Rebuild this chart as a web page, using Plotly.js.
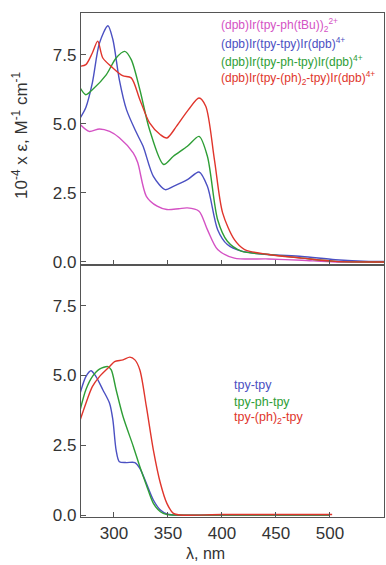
<!DOCTYPE html>
<html><head><meta charset="utf-8">
<script src="https://cdn.plot.ly/plotly-3.0.1.min.js"></script>
<style>html,body{margin:0;padding:0;background:#fff}#chart{width:386px;height:565px}</style>
</head><body><div id="chart"></div>
<script>
// Top panel: Ir complexes
const tBuX = [268.75,277,286.6,296,305,317.8,322,330,340,349,360,368,378.75,386.5,396,411.5,443,474,505,550];
const tBuY = [4.98,4.73,4.82,4.73,4.5,3.95,3.6,2.38,2.02,1.9,1.93,1.96,1.84,1.17,0.45,0.14,0.11,0.06,0.0,0.0];
const tpyX = [268.75,274,280,286.6,294.4,299,305,311.6,321,327,336.5,347.5,355,368,378.75,386.5,396,405,418,443,474,505,536,550];
const tpyY = [5.22,5.6,6.49,7.93,8.56,8.06,6.6,5.52,4.67,4.19,3.1,2.62,2.74,2.98,3.26,2.74,1.17,0.63,0.39,0.27,0.2,0.08,0.02,0.02];
const phX = [268.75,274,280,293,302,310,316,324,333,346,355,368,378.75,386.5,396,405,418,443,474,505,550];
const phY = [6.3,6.06,6.24,6.79,7.39,7.63,7.33,6.24,4.79,3.53,3.83,4.19,4.55,3.83,1.53,0.75,0.39,0.27,0.14,0.02,0.0];
const ph2X = [268.75,274,280,285,289.7,299,308,316,324,333,343,349,358,369,378.75,385,393,400.6,411.5,421,443,474,505,550];
const ph2Y = [7.09,7.15,7.57,8.0,7.39,7.03,6.75,6.67,5.88,5.04,4.61,4.49,4.92,5.52,5.94,5.64,3.71,1.78,0.81,0.45,0.27,0.14,0.02,0.0];
// Bottom panel: free ligands
const lTpyX = [268.75,274,278.75,283.4,289.7,296,299,302,305,311.6,319.4,324,330,336.5,343,349,355,400,450,500];
const lTpyY = [4.37,4.96,5.17,4.96,4.49,4.0,3.41,2.33,1.91,1.88,1.88,1.67,1.14,0.54,0.18,0.04,0.0,0.0,0.0,0.0];
const lPhX = [268.75,274,280,286.6,294.4,297.5,302,308.4,318,324,330,336.5,343,349,355,400,450,500];
const lPhY = [3.77,4.49,4.96,5.23,5.32,5.2,4.49,3.53,2.45,1.73,1.08,0.42,0.12,0.02,0.0,0.0,0.0,0.0];
const lPh2X = [268.75,274,280,286.6,296,300.6,308.4,314.7,319.4,324,330,336.5,343,349,355,361.5,400,450,502];
const lPh2Y = [3.41,4.0,4.6,4.96,5.32,5.5,5.56,5.66,5.56,5.2,3.89,2.33,1.14,0.42,0.06,0.0,0.02,0.02,0.02];

const topLabels = ["(dpb)Ir(tpy-ph(tBu))<sub>2</sub><sup>2+</sup>","(dpb)Ir(tpy-tpy)Ir(dpb)<sup>4+</sup>","(dpb)Ir(tpy-ph-tpy)Ir(dpb)<sup>4+</sup>","(dpb)Ir(tpy-(ph)<sub>2</sub>-tpy)Ir(dpb)<sup>4+</sup>"];
const botLabels = ["tpy-tpy","tpy-ph-tpy","tpy-(ph)<sub>2</sub>-tpy"];
const yTicks = [0,2.5,5,7.5];
const yTickText = ["0.0","2.5","5.0","7.5"];
const xTicks = [300,350,400,450,500];

const cPink='#d452c4', cBlue='#4b50c2', cGreen='#2e9e36', cRed='#e0352c';
function tr(x,y,c,xa,ya){return {x:x,y:y,mode:'lines',line:{color:c,width:1.4,shape:'spline',smoothing:0.8},xaxis:xa,yaxis:ya,hoverinfo:'skip',showlegend:false};}
const data=[
 tr(tBuX,tBuY,cPink,'x','y'),tr(tpyX,tpyY,cBlue,'x','y'),tr(phX,phY,cGreen,'x','y'),tr(ph2X,ph2Y,cRed,'x','y'),
 tr(lTpyX,lTpyY,cBlue,'x2','y2'),tr(lPhX,lPhY,cGreen,'x2','y2'),tr(lPh2X,lPh2Y,cRed,'x2','y2')
];
const font={family:'Liberation Sans, Arial, sans-serif',size:17,color:'#333'};
const axBase={showline:true,mirror:true,linecolor:'#555',linewidth:1.2,ticks:'inside',ticklen:5,tickcolor:'#555',showgrid:false,zeroline:false,tickfont:{size:17,color:'#333'}};
const cols=[cPink,cBlue,cGreen,cRed];
const ann=[];
const topY=[25,43,61,78];
topLabels.forEach((t,i)=>ann.push({text:t,xref:'paper',yref:'paper',x:(219-81)/303,y:(517-topY[i])/504,xanchor:'left',yanchor:'middle',showarrow:false,font:{size:12,color:cols[i]}}));
const botY=[385,402,418];
botLabels.forEach((t,i)=>ann.push({text:t,xref:'paper',yref:'paper',x:(232-81)/303,y:(517-botY[i])/504,xanchor:'left',yanchor:'middle',showarrow:false,font:{size:12.5,color:cols[i+1]}}));
ann.push({text:'λ, nm',xref:'paper',yref:'paper',x:(205-81)/303,y:(517-553)/504,xanchor:'center',yanchor:'middle',showarrow:false,font:{size:16,color:'#333'}});
ann.push({text:'10<sup>-4</sup> x ε, M<sup>-1</sup> cm<sup>-1</sup>',xref:'paper',yref:'paper',x:(20-81)/303,y:(517-135)/504,xanchor:'center',yanchor:'middle',textangle:-90,showarrow:false,font:{size:17,color:'#333'}});
const layout={
 width:386,height:565,margin:{l:81,r:2,t:13,b:48},paper_bgcolor:'#fff',plot_bgcolor:'#fff',font:font,
 xaxis:Object.assign({},axBase,{range:[269.5,550],tickvals:xTicks,showticklabels:false,anchor:'y'}),
 yaxis:Object.assign({},axBase,{range:[-0.11,9.02],domain:[0.5,1],tickvals:yTicks,ticktext:yTickText,anchor:'x'}),
 xaxis2:Object.assign({},axBase,{range:[269.5,550],tickvals:xTicks,anchor:'y2'}),
 yaxis2:Object.assign({},axBase,{range:[-0.07,8.96],domain:[0,0.5],tickvals:yTicks,ticktext:yTickText,anchor:'x2'}),
 annotations:ann
};
Plotly.newPlot('chart',data,layout,{displayModeBar:false,staticPlot:true});
</script></body></html>
